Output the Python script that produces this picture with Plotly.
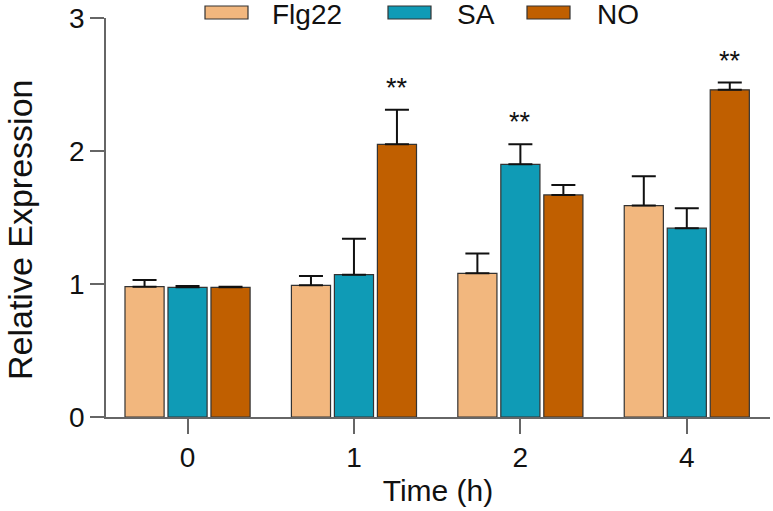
import plotly.graph_objects as go

# ---- data ----
times = ["0", "1", "2", "4"]
flg22 = [0.98, 0.99, 1.08, 1.59]
flg22_err = [0.05, 0.07, 0.15, 0.22]
sa = [0.975, 1.07, 1.90, 1.42]
sa_err = [0.01, 0.27, 0.15, 0.15]
no = [0.975, 2.05, 1.67, 2.46]
no_err = [0.005, 0.26, 0.075, 0.055]
series_names = ["Flg22", "SA", "NO"]
colors = ["#F2B77E", "#0F9BB6", "#C05F00"]
# significance marks: (time index, series index, label)
sig_marks = [(1, 2, "**"), (2, 1, "**"), (3, 2, "**")]

W, H = 773, 511
ML, MR, MT, MB = 106, 3, 18, 94
BARGAP = 0.225
BARGROUPGAP = 0.09
FONT = "Liberation Sans, Arial, sans-serif"

xs = list(range(len(times)))
values = [flg22, sa, no]
errors = [flg22_err, sa_err, no_err]

fig = go.Figure()
for name, vals, errs, col in zip(series_names, values, errors, colors):
    fig.add_trace(go.Bar(
        x=xs, y=vals, name=name,
        marker=dict(color=col, line=dict(color="#333333", width=1.2)),
        error_y=dict(type="data", symmetric=False, array=errs,
                     arrayminus=[0] * len(errs), color="#111111",
                     thickness=2, width=12),
        showlegend=False,
    ))

# significance asterisks above the relevant bars
step = (1 - BARGAP) / len(series_names)
for ti, si, lab in sig_marks:
    xpos = ti + (si - (len(series_names) - 1) / 2) * step
    ytop = values[si][ti] + errors[si][ti]
    fig.add_annotation(x=xpos, y=ytop, text=lab, showarrow=False,
                       xref="x", yref="y", yanchor="bottom", yshift=5,
                       font=dict(size=27, color="#111111", family=FONT))

# manual legend (wide swatches)
pw = W - ML - MR
ph = H - MT - MB
def px2paper_x(px):
    return (px - ML) / pw
def px2paper_y(py):
    return (H - MB - py) / ph

legend_swatch_x = [205, 388, 527]
legend_text_x = [270, 455, 595]
for name, col, sx, tx in zip(series_names, colors, legend_swatch_x, legend_text_x):
    fig.add_shape(type="rect", xref="paper", yref="paper",
                  x0=px2paper_x(sx), x1=px2paper_x(sx + 43),
                  y0=px2paper_y(19), y1=px2paper_y(6),
                  fillcolor=col, line=dict(color="#333333", width=1.2))
    fig.add_annotation(xref="paper", yref="paper", x=px2paper_x(tx),
                       y=px2paper_y(14), text=name, showarrow=False,
                       xanchor="left", yanchor="middle",
                       font=dict(size=28, color="#111111", family=FONT))

# y-axis title (placed as annotation to match position)
fig.add_annotation(xref="paper", yref="paper", x=px2paper_x(20), y=px2paper_y(230),
                   text="Relative Expression", textangle=-90, showarrow=False,
                   xanchor="center", yanchor="middle", borderpad=0,
                   font=dict(size=34, color="#111111", family=FONT))

fig.update_layout(
    width=W, height=H,
    margin=dict(l=ML, r=MR, t=MT, b=MB),
    paper_bgcolor="white", plot_bgcolor="white",
    barmode="group", bargap=BARGAP, bargroupgap=BARGROUPGAP,
    font=dict(family=FONT, color="#111111"),
    xaxis=dict(
        range=[-0.49, 3.5], tickvals=xs, ticktext=times,
        showline=True, linecolor="#666666", linewidth=1.5,
        ticks="outside", ticklen=15, tickwidth=1.5, tickcolor="#666666",
        showgrid=False, zeroline=False,
        tickfont=dict(size=28, family=FONT, color="#111111"),
        title=dict(text="Time (h)", font=dict(size=30, family=FONT, color="#111111"), standoff=8),
    ),
    yaxis=dict(
        range=[0, 3], tickvals=[0, 1, 2, 3],
        showline=True, linecolor="#666666", linewidth=1.5,
        ticks="outside", ticklen=14, tickwidth=1.5, tickcolor="#666666",
        showgrid=False, zeroline=False,
        tickfont=dict(size=28, family=FONT, color="#111111"),
    ),
)

fig.write_html("out.html")
